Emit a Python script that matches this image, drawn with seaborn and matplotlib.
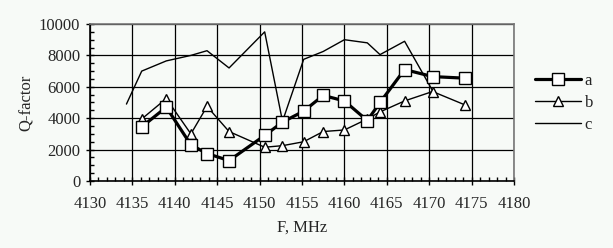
import matplotlib

matplotlib.use("Agg")
import matplotlib.pyplot as plt
from matplotlib.ticker import MultipleLocator
import pandas as pd
import seaborn as sns

# Frequencies (MHz) and Q-factor series
freq_ab = [4136.1, 4139.0, 4141.9, 4143.8, 4146.4, 4150.6, 4152.7, 4155.2,
           4157.5, 4160.0, 4162.7, 4164.2, 4167.1, 4170.4, 4174.2]
q_a = [3450, 4700, 2300, 1750, 1300, 2900, 3750, 4450,
       5450, 5100, 3850, 5000, 7100, 6650, 6550]
q_b = [3950, 5250, 3000, 4750, 3150, 2150, 2250, 2500,
       3150, 3250, 3950, 4400, 5100, 5700, 4850]

freq_c = [4134.3, 4136.1, 4139.0, 4141.9, 4143.8, 4146.4, 4150.6, 4152.7,
          4155.2, 4157.5, 4160.0, 4162.7, 4164.2, 4167.1, 4170.4]
q_c = [4900, 7000, 7650, 8000, 8300, 7200, 9500, 3800,
       7750, 8250, 9000, 8800, 8050, 8900, 5750]

X_TICKS = list(range(4130, 4181, 5))
Y_TICKS = list(range(0, 10001, 2000))

BG = "#f7faf7"
FS = 12

sns.set_theme(style="white")
plt.rcParams["font.family"] = ["Liberation Serif", "DejaVu Serif"]

fig = plt.figure(figsize=(6.13, 2.48), dpi=100, facecolor=BG)
ax = fig.add_axes([0.1468, 0.2702, 0.6917, 0.633])
ax.set_facecolor(BG)

df_a = pd.DataFrame({"F": freq_ab, "Q": q_a})
df_b = pd.DataFrame({"F": freq_ab, "Q": q_b})
df_c = pd.DataFrame({"F": freq_c, "Q": q_c})

sns.lineplot(data=df_c, x="F", y="Q", ax=ax, color="black", lw=1.0,
             sort=False, label="c", zorder=3)
sns.lineplot(data=df_b, x="F", y="Q", ax=ax, color="black", lw=1.0,
             marker="^", markersize=7.5, markerfacecolor="white",
             markeredgecolor="black", markeredgewidth=1.0,
             sort=False, label="b", zorder=4)
sns.lineplot(data=df_a, x="F", y="Q", ax=ax, color="black", lw=2.3,
             marker="s", markersize=8, markerfacecolor="white",
             markeredgecolor="black", markeredgewidth=1.0,
             sort=False, label="a", zorder=5)

ax.set_xlim(4130, 4180)
ax.set_ylim(0, 10000)
ax.set_xticks(X_TICKS)
ax.set_yticks(Y_TICKS)
ax.xaxis.set_minor_locator(MultipleLocator(1))
ax.yaxis.set_minor_locator(MultipleLocator(500))
ax.grid(True, which="major", color="black", lw=0.9)
ax.set_axisbelow(True)

ax.tick_params(axis="both", which="major", direction="inout", length=6,
               width=1, color="black", labelsize=FS)
ax.tick_params(axis="x", which="major", pad=8)
ax.tick_params(axis="y", which="major", pad=4)
ax.tick_params(axis="both", which="minor", direction="in", length=3,
               width=1, color="black")
ax.tick_params(axis="x", which="both", bottom=True)
ax.tick_params(axis="y", which="both", left=True)

for side in ("left", "bottom"):
    ax.spines[side].set_color("black")
    ax.spines[side].set_linewidth(1.2)
for side in ("top", "right"):
    ax.spines[side].set_color("#777777")
    ax.spines[side].set_linewidth(1.2)

ax.set_xlabel("F, MHz", fontsize=FS, labelpad=5)
ax.set_ylabel("Q-factor", fontsize=FS, labelpad=3)

handles, labels = ax.get_legend_handles_labels()
order = [labels.index(k) for k in ("a", "b", "c")]
ax.legend([handles[i] for i in order], [labels[i] for i in order],
          loc="center left", bbox_to_anchor=(0.848, 0.585),
          bbox_transform=fig.transFigure, frameon=False, fontsize=FS,
          handlelength=2.8, handletextpad=0.2, labelspacing=0.38)

fig.savefig("out.png", dpi=100, facecolor=BG)
